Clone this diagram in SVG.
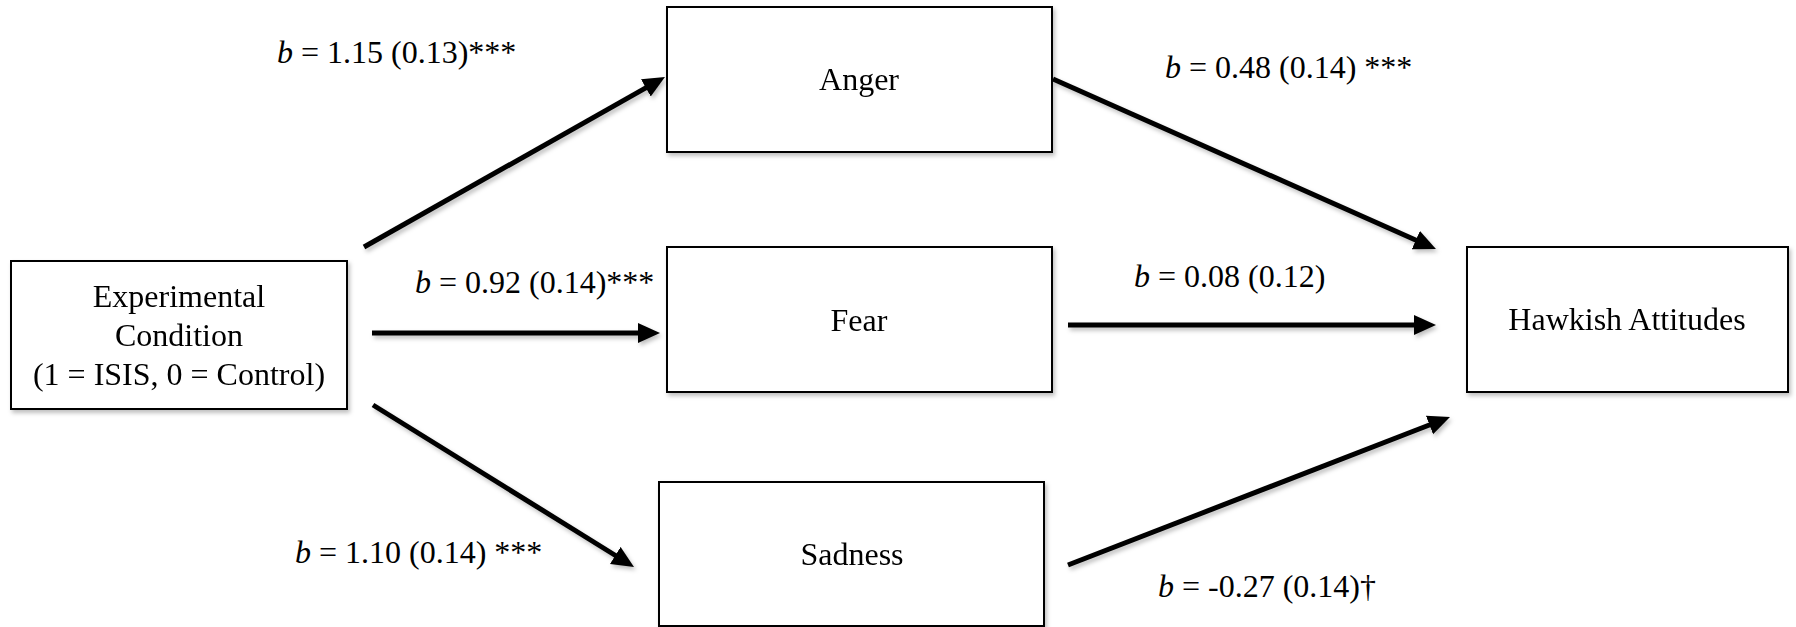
<svg xmlns="http://www.w3.org/2000/svg" width="1796" height="627" viewBox="0 0 1796 627">
<style>
text{font-family:"Liberation Serif","Times New Roman",serif;font-size:32px;fill:#000}
.node text{text-anchor:middle}
.box{fill:#fff;stroke:#000;stroke-width:2}
.arrow{stroke:#000;stroke-width:5;fill:none;marker-end:url(#ah)}
.b{font-style:italic}
</style>
<defs>
<filter id="sh" x="-10%" y="-10%" width="130%" height="140%">
<feDropShadow dx="2" dy="3" stdDeviation="2" flood-color="#000" flood-opacity="0.25"/>
</filter>
<marker id="ah" markerUnits="userSpaceOnUse" markerWidth="24" markerHeight="22" refX="4" refY="10" orient="auto" viewBox="0 0 24 22">
<path d="M0,0 L22,10 L0,20 z" fill="#000"/>
</marker>
</defs>
<rect width="1796" height="627" fill="#fff"/>
<g id="connectors" filter="url(#sh)">
<line class="arrow" x1="364" y1="247" x2="649.3" y2="85.9"/>
<line class="arrow" x1="372" y1="333" x2="642" y2="333"/>
<line class="arrow" x1="373" y1="405" x2="618.7" y2="557.5"/>
<line class="arrow" x1="1053" y1="79" x2="1419.5" y2="241.7"/>
<line class="arrow" x1="1068" y1="325" x2="1418" y2="325"/>
<line class="arrow" x1="1068" y1="565" x2="1433.2" y2="423.5"/>
</g>
<g id="node-experimental" class="node" filter="url(#sh)">
<rect class="box" x="11" y="261" width="336" height="148"/>
<text x="179" y="307">Experimental</text>
<text x="179" y="346">Condition</text>
<text x="179" y="385">(1 = ISIS, 0 = Control)</text>
</g>
<g id="node-anger" class="node" filter="url(#sh)">
<rect class="box" x="667" y="7" width="385" height="145"/>
<text x="859" y="90">Anger</text>
</g>
<g id="node-fear" class="node" filter="url(#sh)">
<rect class="box" x="667" y="247" width="385" height="145"/>
<text x="859" y="331">Fear</text>
</g>
<g id="node-sadness" class="node" filter="url(#sh)">
<rect class="box" x="659" y="482" width="385" height="144"/>
<text x="852" y="565">Sadness</text>
</g>
<g id="node-hawkish" class="node" filter="url(#sh)">
<rect class="box" x="1467" y="247" width="321" height="145"/>
<text x="1627" y="330">Hawkish Attitudes</text>
</g>
<g id="labels">
<text x="277" y="63"><tspan class="b">b</tspan> = 1.15 (0.13)***</text>
<text x="415" y="293"><tspan class="b">b</tspan> = 0.92 (0.14)***</text>
<text x="295" y="563"><tspan class="b">b</tspan> = 1.10 (0.14) ***</text>
<text x="1165" y="78"><tspan class="b">b</tspan> = 0.48 (0.14) ***</text>
<text x="1134" y="287"><tspan class="b">b</tspan> = 0.08 (0.12)</text>
<text x="1158" y="597"><tspan class="b">b</tspan> = -0.27 (0.14)†</text>
</g>
</svg>
